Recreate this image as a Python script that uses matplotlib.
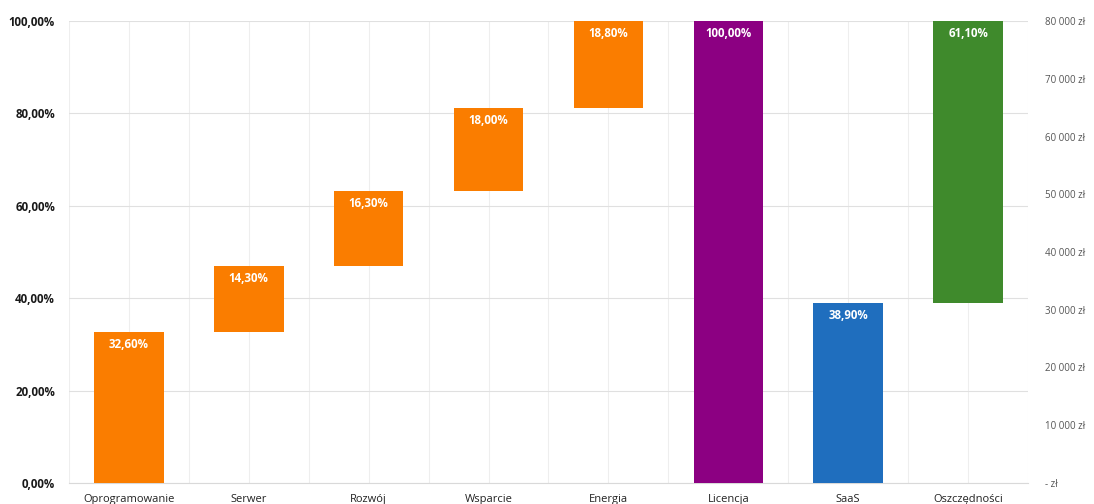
import matplotlib
matplotlib.use("Agg")
import matplotlib.pyplot as plt
from matplotlib.ticker import FuncFormatter, MultipleLocator

categories = ["Oprogramowanie", "Serwer", "Rozwój", "Wsparcie", "Energia",
              "Licencja", "SaaS", "Oszczędności"]
values = [32.6, 14.3, 16.3, 18.0, 18.8, 100.0, 38.9, 61.1]
bases = [0.0, 32.6, 46.9, 63.2, 81.2, 0.0, 0.0, 38.9]
colors = ["#FA7D00"] * 5 + ["#8C0082", "#1F6EBE", "#3F8A2C"]
right_max = 80000

plt.rcParams["font.family"] = ["Open Sans", "DejaVu Sans"]

fig = plt.figure(figsize=(10.94, 5.04), dpi=100)
ax = fig.add_axes([0.063, 0.0417, 0.8767, 0.9166])

x = list(range(len(categories)))
ax.bar(x, values, bottom=bases, width=0.58, color=colors, zorder=3)

for xi, v, b in zip(x, values, bases):
    ax.text(xi, b + v - 2.7, f"{v:.2f}%".replace(".", ","), ha="center",
            va="center", color="white", fontsize=8.3, fontweight="bold", zorder=4)

ax.set_xlim(-0.5, len(categories) - 0.5)
ax.set_ylim(0, 100)
ax.set_xticks(x)
ax.set_xticklabels(categories, fontsize=8, color="#222222")
ax.xaxis.set_minor_locator(MultipleLocator(0.5))
ax.set_yticks([0, 20, 40, 60, 80, 100])
ax.yaxis.set_major_formatter(FuncFormatter(lambda v, p: f"{v:.2f}%".replace(".", ",")))
ax.tick_params(axis="y", labelsize=8.3, length=0, pad=10)
ax.tick_params(axis="x", which="both", length=0, pad=8)
for lab in ax.get_yticklabels():
    lab.set_fontweight("bold")
    lab.set_color("#1a1a1a")

ax.grid(True, axis="y", color="#e0e0e0", linewidth=0.8, zorder=0)
ax.grid(True, axis="x", which="both", color="#eeeeee", linewidth=0.8, zorder=0)
for s in ["top", "left", "right"]:
    ax.spines[s].set_visible(False)
ax.spines["bottom"].set_color("#d9d9d9")

ax2 = ax.twinx()
ax2.set_ylim(0, right_max)
ax2.set_yticks(range(0, right_max + 1, 10000))
ax2.yaxis.set_major_formatter(FuncFormatter(
    lambda v, p: "- zł" if v == 0 else f"{int(v):,} zł".replace(",", " ")))
ax2.tick_params(axis="y", labelsize=7, length=0, pad=12, colors="#555555")
for s in ["top", "left", "right", "bottom"]:
    ax2.spines[s].set_visible(False)

fig.savefig("out.png", dpi=100)
